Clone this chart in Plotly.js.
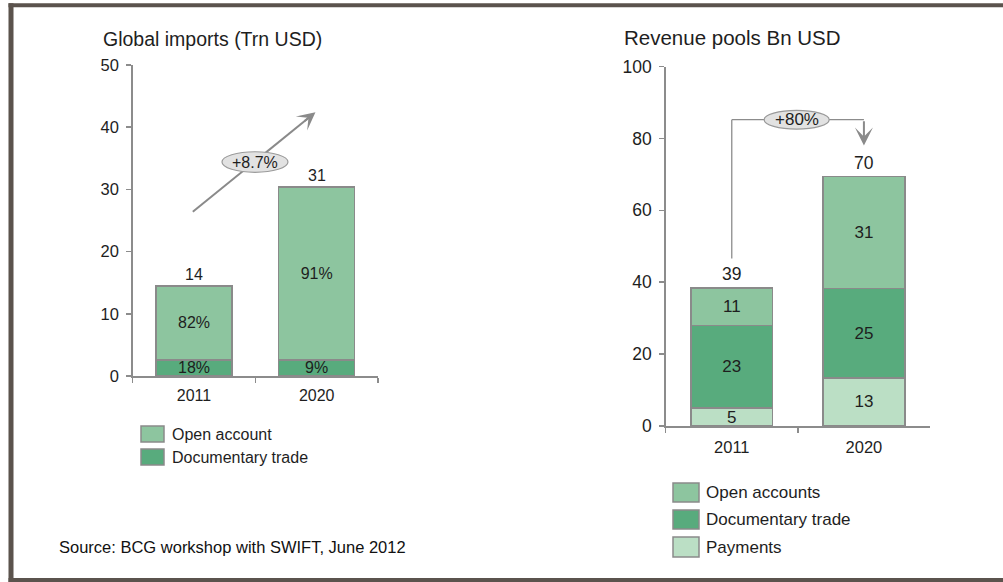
<!DOCTYPE html>
<html>
<head>
<meta charset="utf-8">
<script src="https://cdn.plot.ly/plotly-3.0.1.min.js"></script>
<style>html,body{margin:0;padding:0;background:#fff;}#chart{width:1003px;height:582px;}</style>
</head>
<body>
<div id="chart"></div>
<script>
// ---------- data ----------
const leftCategories = ['2011', '2020'];
const leftDocumentary = [2.6, 2.6];
const leftOpenAccount = [11.9, 27.8];
const leftDocLabels = ['18%', '9%'];
const leftOpenLabels = ['82%', '91%'];
const leftTotalLabels = ['14', '31'];
const leftGrowthLabel = '+8.7%';
const leftSeriesNames = ['Open account', 'Documentary trade'];

const rightCategories = ['2011', '2020'];
const rightPayments = [5, 13.4];
const rightDocumentary = [23, 24.9];
const rightOpenAccounts = [10.4, 31.1];
const rightPayLabels = ['5', '13'];
const rightDocLabels = ['23', '25'];
const rightOpenLabels = ['11', '31'];
const rightTotalLabels = ['39', '70'];
const rightGrowthLabel = '+80%';
const rightSeriesNames = ['Open accounts', 'Documentary trade', 'Payments'];

const leftTicks = [0, 10, 20, 30, 40, 50];
const rightTicks = [0, 20, 40, 60, 80, 100];

// ---------- style ----------
const FONT = 'Liberation Sans, Arial, sans-serif';
const TXT = '#1e1e1e';
const C_OPEN = '#8dc59f';
const C_DOC = '#58ab7d';
const C_PAY = '#bbdfc5';
const EDGE = '#8a8a8a';
const AXIS = '#8c8c8c';
const FRAME = '#5b534d';
const W = 1003, H = 582;
const px = x => x / W;
const py = y => (H - y) / H;

function barTrace(cats, vals, labels, color, xa, ya, name, fs) {
  return {
    type: 'bar', x: cats, y: vals, name: name, xaxis: xa, yaxis: ya,
    marker: {color: color, line: {color: EDGE, width: 1.5}},
    text: labels, textposition: 'inside', insidetextanchor: 'middle',
    constraintext: 'none', textangle: 0,
    textfont: {family: FONT, size: fs, color: TXT},
    hoverinfo: 'skip', showlegend: false
  };
}

const data = [
  barTrace(leftCategories, leftDocumentary, leftDocLabels, C_DOC, 'x', 'y', leftSeriesNames[1], 16),
  barTrace(leftCategories, leftOpenAccount, leftOpenLabels, C_OPEN, 'x', 'y', leftSeriesNames[0], 16),
  barTrace(rightCategories, rightPayments, rightPayLabels, C_PAY, 'x2', 'y2', rightSeriesNames[2], 17),
  barTrace(rightCategories, rightDocumentary, rightDocLabels, C_DOC, 'x2', 'y2', rightSeriesNames[1], 17),
  barTrace(rightCategories, rightOpenAccounts, rightOpenLabels, C_OPEN, 'x2', 'y2', rightSeriesNames[0], 17)
];

const leftTotals = leftCategories.map((c, i) => leftDocumentary[i] + leftOpenAccount[i]);
const rightTotals = rightCategories.map((c, i) => rightPayments[i] + rightDocumentary[i] + rightOpenAccounts[i]);

function xAxis(domain, anchor, fs, standoff) {
  return {
    domain: domain, anchor: anchor, type: 'category', range: [-0.5, 1.5],
    showline: true, linecolor: AXIS, linewidth: 1.5, showgrid: false, zeroline: false,
    ticks: 'outside', tickson: 'boundaries', ticklen: 5, tickcolor: AXIS, tickwidth: 1.5,
    tickfont: {family: FONT, size: fs, color: TXT}, ticklabelstandoff: standoff,
    automargin: false, fixedrange: true
  };
}
function yAxis(domain, anchor, range, ticks, fs) {
  return {
    domain: domain, anchor: anchor, range: range,
    tickvals: ticks, ticktext: ticks.map(String),
    showline: true, linecolor: AXIS, linewidth: 1.5, showgrid: false, zeroline: false,
    ticks: 'outside', ticklen: 5, tickcolor: AXIS, tickwidth: 1.5,
    tickfont: {family: FONT, size: fs, color: TXT}, ticklabelstandoff: 4,
    automargin: false, fixedrange: true
  };
}

const annotations = [];
const shapes = [];

// titles
annotations.push({xref: 'paper', yref: 'paper', x: px(101), y: py(39), xanchor: 'left', yanchor: 'middle',
  text: 'Global imports (Trn USD)', showarrow: false, font: {family: FONT, size: 19.5, color: TXT}});
annotations.push({xref: 'paper', yref: 'paper', x: px(622), y: py(37), xanchor: 'left', yanchor: 'middle',
  text: 'Revenue pools Bn USD', showarrow: false, font: {family: FONT, size: 20.5, color: TXT}});
annotations.push({xref: 'paper', yref: 'paper', x: px(57), y: py(547), xanchor: 'left', yanchor: 'middle',
  text: 'Source: BCG workshop with SWIFT, June 2012', showarrow: false, font: {family: FONT, size: 16.5, color: '#111'}});

// totals
leftCategories.forEach((c, i) => annotations.push({xref: 'x', yref: 'y', x: i, y: leftTotals[i], yanchor: 'bottom', yshift: 1,
  text: leftTotalLabels[i], showarrow: false, font: {family: FONT, size: 16, color: TXT}}));
rightCategories.forEach((c, i) => annotations.push({xref: 'x2', yref: 'y2', x: i, y: rightTotals[i], yanchor: 'bottom', yshift: 2,
  text: rightTotalLabels[i], showarrow: false, font: {family: FONT, size: 17.5, color: TXT}}));

// left growth arrow: line (shape) under the ellipse, arrowhead via annotation
const arrowFrom = [-0.01, 26.4], arrowTo = [0.99, 42.4];
shapes.push({type: 'line', xref: 'x', yref: 'y', x0: arrowFrom[0], y0: arrowFrom[1], x1: arrowTo[0] - 0.03, y1: arrowTo[1] - 0.48,
  line: {color: '#8a8a8a', width: 2}});
annotations.push({xref: 'x', yref: 'y', axref: 'x', ayref: 'y', x: arrowTo[0], y: arrowTo[1],
  ax: arrowTo[0] - 0.1, ay: arrowTo[1] - 1.6,
  text: '', showarrow: true, arrowhead: 3, arrowsize: 1.5, arrowwidth: 2, arrowcolor: '#8a8a8a', standoff: 0});
shapes.push({type: 'circle', xref: 'x', yref: 'y', x0: 0.228, x1: 0.766, y0: 32.75, y1: 36.05,
  fillcolor: '#e2e2e2', line: {color: '#9a9a9a', width: 1.2}});
annotations.push({xref: 'x', yref: 'y', x: 0.497, y: 34.4, text: leftGrowthLabel, showarrow: false,
  font: {family: FONT, size: 16, color: TXT}});

// right connector
const connY = 85.2;
shapes.push({type: 'line', xref: 'x2', yref: 'y2', x0: 0, x1: 0, y0: 46.6, y1: connY, line: {color: AXIS, width: 1.3}});
shapes.push({type: 'line', xref: 'x2', yref: 'y2', x0: 0, x1: 1, y0: connY, y1: connY, line: {color: AXIS, width: 1.3}});
annotations.push({xref: 'x2', yref: 'y2', axref: 'x2', ayref: 'y2', x: 1, y: 78, ax: 1, ay: connY,
  text: '', showarrow: true, arrowhead: 3, arrowsize: 1.5, arrowwidth: 2, arrowcolor: '#8a8a8a', standoff: 0});
shapes.push({type: 'circle', xref: 'x2', yref: 'y2', x0: 0.245, x1: 0.737, y0: connY - 2.6, y1: connY + 2.6,
  fillcolor: '#e2e2e2', line: {color: '#9a9a9a', width: 1.2}});
annotations.push({xref: 'x2', yref: 'y2', x: 0.49, y: connY, text: rightGrowthLabel, showarrow: false,
  font: {family: FONT, size: 17, color: TXT}});

// legends (swatches + labels)
function legendItem(x0, x1, y0, y1, tx, color, label, size) {
  shapes.push({type: 'rect', xref: 'paper', yref: 'paper', x0: px(x0), x1: px(x1), y0: py(y1), y1: py(y0),
    fillcolor: color, line: {color: EDGE, width: 1.5}});
  annotations.push({xref: 'paper', yref: 'paper', x: px(tx), y: py((y0 + y1) / 2), xanchor: 'left', yanchor: 'middle',
    text: label, showarrow: false, font: {family: FONT, size: size, color: TXT}});
}
legendItem(141, 164, 426, 442, 170, C_OPEN, leftSeriesNames[0], 16);
legendItem(141, 164, 449, 465, 170, C_DOC, leftSeriesNames[1], 16);
legendItem(673, 699, 483, 502, 704, C_OPEN, rightSeriesNames[0], 17);
legendItem(673, 699, 510, 529, 704, C_DOC, rightSeriesNames[1], 17);
legendItem(673, 699, 537, 557, 704, C_PAY, rightSeriesNames[2], 17);

// frame
const fr = (x0, y0, x1, y1) => shapes.push({type: 'rect', xref: 'paper', yref: 'paper',
  x0: px(x0), x1: px(x1), y0: py(y1), y1: py(y0), fillcolor: FRAME, line: {width: 0}, layer: 'below'});
fr(8.5, 3.3, 13.5, 582);
fr(8.5, 3.3, 1003, 7.3);
fr(8.5, 578, 1003, 582);

const layout = {
  width: W, height: H,
  margin: {l: 0, r: 0, t: 0, b: 0, pad: 0},
  paper_bgcolor: '#ffffff', plot_bgcolor: 'rgba(0,0,0,0)',
  barmode: 'stack', bargap: 0.38,
  showlegend: false,
  xaxis: xAxis([px(132.7), px(378)], 'y', 16, 4),
  yaxis: yAxis([py(376), py(65)], 'x', [0, 50], leftTicks, 16.5),
  xaxis2: xAxis([px(665.7), px(930)], 'y2', 16.5, 6),
  yaxis2: yAxis([py(426), py(66.5)], 'x2', [0, 100], rightTicks, 17.5),
  annotations: annotations,
  shapes: shapes
};

Plotly.newPlot('chart', data, layout, {displayModeBar: false, staticPlot: true});
</script>
</body>
</html>
